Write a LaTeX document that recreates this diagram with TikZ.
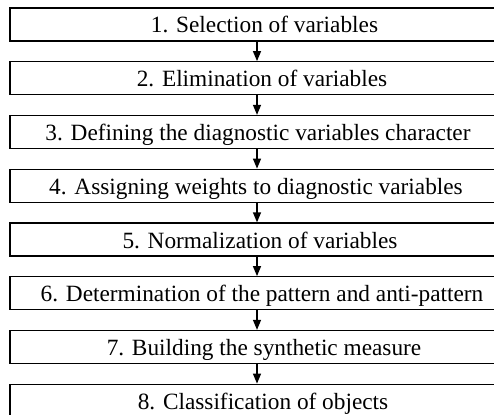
\documentclass[tikz,border=0pt]{standalone}
\usepackage{fontspec}
\setmainfont{Liberation Serif}
\usetikzlibrary{arrows.meta}
\begin{document}
\begin{tikzpicture}[x=1pt,y=1pt,
  stepbox/.style={draw=black, line width=1.3pt, minimum height=33pt,
    inner xsep=0pt, inner ysep=3pt, text height=22pt, text depth=5pt,
    font=\fontsize{23.3}{28}\selectfont},
  arr/.style={line width=1.3pt, -{Triangle[width=8pt,length=10pt]}}]
\useasboundingbox (0,0) rectangle (494,-414);
\coordinate (ax) at (257,0);
\node[stepbox, minimum width=509pt] (b1) at (264.5,-24.5)  {1. Selection of variables};
\node[stepbox, minimum width=504pt] (b2) at (262,-78.25)   {2. Elimination of variables};
\node[stepbox, minimum width=496pt] (b3) at (258,-132)     {3. Defining the diagnostic variables character};
\node[stepbox, minimum width=492pt] (b4) at (256,-185.75)  {4. Assigning weights to diagnostic variables};
\node[stepbox, minimum width=500pt] (b5) at (260,-239.5)   {5. Normalization of variables};
\node[stepbox, minimum width=504pt] (b6) at (262,-293.25)  {6. Determination of the pattern and anti-pattern};
\node[stepbox, minimum width=508pt] (b7) at (264,-347)     {7. Building the synthetic measure};
\node[stepbox, minimum width=506pt] (b8) at (263,-400.75)  {8. Classification of objects};
\foreach \a/\b in {b1/b2,b2/b3,b3/b4,b4/b5,b5/b6,b6/b7,b7/b8}
  \draw[arr] (\a.south -| ax) -- (\b.north -| ax);
\end{tikzpicture}
\end{document}
